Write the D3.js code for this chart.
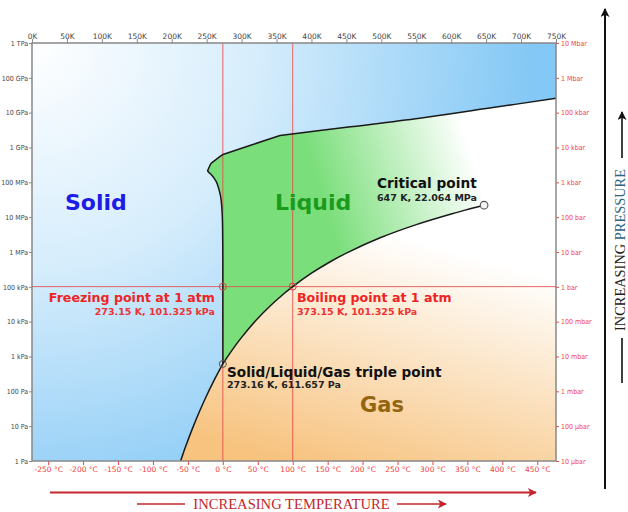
<!DOCTYPE html>
<html>
<head>
<meta charset="utf-8">
<script src="https://cdn.jsdelivr.net/npm/d3@7"></script>
<style>
  html, body { margin: 0; padding: 0; background: #fff; }
  svg { display: block; }
</style>
</head>
<body>
<svg id="chart" width="628" height="512"></svg>
<script>
// Phase diagram of water: temperature (K) against pressure (Pa, log scale).

// Axis ticks
const kelvinTicks = [0, 50, 100, 150, 200, 250, 300, 350, 400, 450, 500, 550, 600, 650, 700, 750];
const celsiusTicks = [-250, -200, -150, -100, -50, 0, 50, 100, 150, 200, 250, 300, 350, 400, 450];
const pascalTicks = [1, 10, 100, 1e3, 1e4, 1e5, 1e6, 1e7, 1e8, 1e9, 1e10, 1e11, 1e12];
const pascalLabels = ["1 Pa", "10 Pa", "100 Pa", "1 kPa", "10 kPa", "100 kPa", "1 MPa", "10 MPa", "100 MPa", "1 GPa", "10 GPa", "100 GPa", "1 TPa"];
const barLabels = ["10 µbar", "100 µbar", "1 mbar", "10 mbar", "100 mbar", "1 bar", "10 bar", "100 bar", "1 kbar", "10 kbar", "100 kbar", "1 Mbar", "10 Mbar"];

// Phase boundaries as [temperature K, pressure Pa]
const sublimation = [[212.7, 1], [220, 2.65], [230, 8.94], [240, 27.3], [250, 76.0], [260, 195.8], [270, 470], [273.16, 611.657]];
const vaporization = [[273.16, 611.657], [280, 991.8], [290, 1920], [300, 3537], [320, 10547], [340, 27192], [360, 62194],
  [373.15, 101325], [400, 245770], [425, 500000], [450, 932060], [500, 2639200], [550, 6117600], [600, 12345000],
  [620, 15901000], [640, 20270000], [647.096, 22064000]];
const iceIhMelting = [[273.16, 611.657], [273.15, 101325], [273.08, 1e6], [272.4, 1e7], [270.8, 3e7], [268.9, 5e7],
  [266.0, 8e7], [264.2, 1e8], [260.8, 1.3e8], [257.2, 1.6e8], [253.4, 1.9e8], [251.165, 2.099e8]];
const iceIIIMelting = [[251.165, 2.099e8], [253.8, 2.8e8], [256.164, 3.501e8]];
const iceVMelting = [[256.164, 3.501e8], [265, 4.8e8], [273.31, 6.324e8]];
const iceVIMelting = [[273.31, 6.324e8], [300, 9.53e8], [330, 1.51e9], [355, 2.216e9]];
const iceVIIMelting = [[355, 2.216e9], [450, 3.8e9], [555, 6.9e9], [650, 13.1e9], [750, 25.8e9]];

// Marked states
const triplePoint = [273.16, 611.657];
const criticalPoint = [647.096, 22064000];
const freezingPoint = [273.15, 101325];
const boilingPoint = [373.15, 101325];

const svg = d3.select("#chart");
const x = d3.scaleLinear().domain([0, 750]).range([32, 556]);
const y = d3.scaleLog().domain([1, 1e12]).range([461, 43]);
const [x0, x1] = x.range();
const [yb, yt] = y.range();
const pt = d => [x(d[0]), y(d[1])];

const SANS = "'DejaVu Sans', Verdana, sans-serif";
const COND = "'DejaVu Sans Condensed', 'DejaVu Sans', sans-serif";
const SERIF = "'Liberation Serif', 'DejaVu Serif', serif";

// Gradients and arrowheads
const defs = svg.append("defs");
const blue = defs.append("radialGradient").attr("id", "solidFill")
  .attr("gradientUnits", "userSpaceOnUse").attr("cx", 32).attr("cy", 43).attr("r", 500);
blue.append("stop").attr("offset", 0).attr("stop-color", "#ffffff");
blue.append("stop").attr("offset", 0.45).attr("stop-color", "#d6edfc");
blue.append("stop").attr("offset", 1).attr("stop-color", "#84c8f5");

const green = defs.append("linearGradient").attr("id", "liquidFill")
  .attr("gradientUnits", "userSpaceOnUse").attr("x1", 325).attr("y1", 210).attr("x2", 475).attr("y2", 165);
green.append("stop").attr("offset", 0).attr("stop-color", "#7ade7a");
green.append("stop").attr("offset", 1).attr("stop-color", "#ffffff");

const orange = defs.append("linearGradient").attr("id", "gasFill")
  .attr("gradientUnits", "userSpaceOnUse").attr("x1", 320).attr("y1", 470).attr("x2", 385).attr("y2", 232);
orange.append("stop").attr("offset", 0).attr("stop-color", "#f7c37f");
orange.append("stop").attr("offset", 1).attr("stop-color", "#ffffff");

function arrowMarker(id, color) {
  defs.append("marker").attr("id", id)
    .attr("viewBox", "0 0 10 10").attr("refX", 9).attr("refY", 5)
    .attr("markerUnits", "userSpaceOnUse").attr("markerWidth", 10).attr("markerHeight", 9)
    .attr("orient", "auto")
    .append("path").attr("d", "M0,0 L10,5 L0,10 L2.5,5 z").attr("fill", color);
}
arrowMarker("arrowRed", "#c4262c");
arrowMarker("arrowBlack", "#111");

// Background: solid phase everywhere
svg.append("rect").attr("x", x0).attr("y", yt).attr("width", x1 - x0).attr("height", yb - yt)
  .attr("fill", "url(#solidFill)");

const poly = d3.line().curve(d3.curveLinearClosed);

// Gas region: below sublimation and vaporization curves; it runs up under the
// supercritical part so the liquid region can sit on top without a seam
const gasPts = [...sublimation, ...vaporization.slice(1), [660, 3e8], [750, 3e8], [750, 1]].map(pt);
svg.append("path").attr("d", poly(gasPts)).attr("fill", "url(#gasFill)");

// Liquid region: right of melting curves, above the vaporization curve
const meltAll = [...iceIhMelting, ...iceIIIMelting.slice(1), ...iceVMelting.slice(1), ...iceVIMelting.slice(1), ...iceVIIMelting.slice(1)];
const liquidPts = [...meltAll, [750, criticalPoint[1]], ...vaporization.slice().reverse()].map(pt);
svg.append("path").attr("d", poly(liquidPts)).attr("fill", "url(#liquidFill)");

// Reference lines at 1 atm, 0 °C and 100 °C
const refG = svg.append("g").attr("stroke", "#e84a4a").attr("stroke-width", 1).attr("stroke-opacity", 0.85);
refG.append("line").attr("x1", x0).attr("x2", x1).attr("y1", y(101325)).attr("y2", y(101325));
[freezingPoint, boilingPoint].forEach(p => {
  refG.append("line").attr("x1", x(p[0])).attr("x2", x(p[0])).attr("y1", yt).attr("y2", yb);
});

// Phase boundary curves
const curve = d3.line().curve(d3.curveCatmullRom.alpha(0.5));
[sublimation, vaporization, iceIhMelting, iceIIIMelting, iceVMelting, iceVIMelting, iceVIIMelting].forEach(seg => {
  svg.append("path").attr("d", curve(seg.map(pt)))
    .attr("fill", "none").attr("stroke", "#1a1a1a").attr("stroke-width", 1.5).attr("stroke-linejoin", "round");
});

// Point markers
[freezingPoint, boilingPoint].forEach(p => {
  svg.append("circle").attr("cx", x(p[0])).attr("cy", y(p[1])).attr("r", 3.5)
    .attr("fill", "none").attr("stroke", "#d84040").attr("stroke-width", 1);
});
svg.append("circle").attr("cx", x(triplePoint[0])).attr("cy", y(triplePoint[1])).attr("r", 3.5)
  .attr("fill", "none").attr("stroke", "#555").attr("stroke-width", 1);
svg.append("circle").attr("cx", x(criticalPoint[0])).attr("cy", y(criticalPoint[1])).attr("r", 3.8)
  .attr("fill", "#f4f4f4").attr("stroke", "#555").attr("stroke-width", 1.1);

// Text labels
function label(txt, px, py, size, color, anchor = "start") {
  svg.append("text").attr("x", px).attr("y", py).attr("text-anchor", anchor)
    .attr("font-family", SANS).attr("font-weight", "bold").attr("font-size", size)
    .attr("fill", color).text(txt);
}
label("Solid", 65, 210, 22, "#1c1ce6");
label("Liquid", 275, 210, 22, "#1b9b1b");
label("Gas", 360, 412, 21, "#93650f");
label("Critical point", 377, 188, 13.7, "#111");
label("647 K, 22.064 MPa", 377, 201, 9.5, "#222");
label("Freezing point at 1 atm", 215, 302, 12.6, "#ee2424", "end");
label("273.15 K, 101.325 kPa", 215, 315, 9.5, "#ee3333", "end");
label("Boiling point at 1 atm", 297, 302, 12.6, "#ee2424");
label("373.15 K, 101.325 kPa", 297, 315, 9.5, "#ee3333");
label("Solid/Liquid/Gas triple point", 227, 377, 13.6, "#111");
label("273.16 K, 611.657 Pa", 227, 388, 9.5, "#222");

// Axes
function styleAxis(g, color, textColor, font, size) {
  g.select(".domain").remove();
  g.selectAll(".tick line").attr("stroke", color);
  g.selectAll(".tick text").attr("fill", textColor).attr("font-family", font).attr("font-size", size);
}
svg.append("g").attr("transform", `translate(${x0},0)`)
  .call(d3.axisLeft(y).tickValues(pascalTicks).tickFormat((d, i) => pascalLabels[i]).tickSize(3).tickPadding(1))
  .call(g => styleAxis(g, "#888", "#444", COND, 7));
svg.append("g").attr("transform", `translate(${x1},0)`)
  .call(d3.axisRight(y).tickValues(pascalTicks).tickFormat((d, i) => barLabels[i]).tickSize(3).tickPadding(2))
  .call(g => styleAxis(g, "#f04040", "#f04040", COND, 7));
svg.append("g").attr("transform", `translate(0,${yt})`)
  .call(d3.axisTop(x).tickValues(kelvinTicks).tickFormat(d => `${d}K`).tickSize(4).tickPadding(0))
  .call(g => styleAxis(g, "#888", "#444", SANS, 7.5));
svg.append("g").attr("transform", `translate(0,${yb})`)
  .call(d3.axisBottom(x).tickValues(celsiusTicks.map(c => c + 273.15)).tickFormat((d, i) => `${celsiusTicks[i]} °C`).tickSize(4).tickPadding(2))
  .call(g => styleAxis(g, "#f04040", "#f04040", SANS, 7.5));

// Plot frame
svg.append("rect").attr("x", x0).attr("y", yt).attr("width", x1 - x0).attr("height", yb - yt)
  .attr("fill", "none").attr("stroke", "#888").attr("stroke-width", 1.5);

// Temperature direction arrow and title
svg.append("line").attr("x1", 50).attr("x2", 536).attr("y1", 492.5).attr("y2", 492.5)
  .attr("stroke", "#c4262c").attr("stroke-width", 2).attr("marker-end", "url(#arrowRed)");
svg.append("line").attr("x1", 137).attr("x2", 185).attr("y1", 504).attr("y2", 504)
  .attr("stroke", "#c4262c").attr("stroke-width", 1.6);
svg.append("line").attr("x1", 397).attr("x2", 446).attr("y1", 504).attr("y2", 504)
  .attr("stroke", "#c4262c").attr("stroke-width", 1.6).attr("marker-end", "url(#arrowRed)");
svg.append("text").attr("x", 291.5).attr("y", 509.3).attr("text-anchor", "middle")
  .attr("font-family", SERIF).attr("font-size", 14.6).attr("fill", "#c4262c")
  .text("INCREASING TEMPERATURE");

// Pressure direction arrow and title
svg.append("line").attr("x1", 605).attr("x2", 605).attr("y1", 489).attr("y2", 9)
  .attr("stroke", "#111").attr("stroke-width", 2).attr("marker-end", "url(#arrowBlack)");
svg.append("line").attr("x1", 622).attr("x2", 622).attr("y1", 383).attr("y2", 338)
  .attr("stroke", "#111").attr("stroke-width", 1.6);
svg.append("line").attr("x1", 622).attr("x2", 622).attr("y1", 158).attr("y2", 112)
  .attr("stroke", "#111").attr("stroke-width", 1.6).attr("marker-end", "url(#arrowBlack)");
const pTitle = svg.append("text").attr("transform", "translate(625,250) rotate(-90)")
  .attr("text-anchor", "middle").attr("font-family", SERIF).attr("font-size", 14.4);
pTitle.append("tspan").attr("fill", "#222").text("INCREASING ");
pTitle.append("tspan").attr("fill", "#2d6586").text("PRESSURE");
</script>
</body>
</html>
